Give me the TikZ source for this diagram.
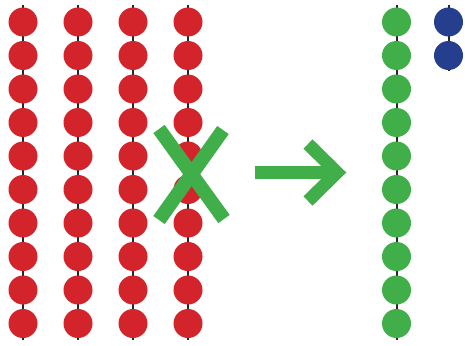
\documentclass[tikz,border=0pt]{standalone}
\usetikzlibrary{positioning}
\definecolor{beadred}{RGB}{211,36,43}
\definecolor{beadgreen}{RGB}{64,174,73}
\definecolor{beadblue}{RGB}{37,63,142}

\begin{document}
\begin{tikzpicture}[ x=1pt, y=-1pt,
    bead/.style= {
        circle,
        fill=#1,
        inner sep=0pt,
        minimum size=29pt },
    wire/.style= {line width=2pt, black!85},
    bar/.style= {line width=#1, draw=beadgreen} ]
    \useasboundingbox (0,0) rectangle (465,345);
    % red strands
    \foreach \c/\x in {1/23,2/78,3/133,4/188} {
        \coordinate (r\c top) at (\x,5);
        \coordinate (r\c bot) at (\x,340);
        \draw [wire] (r\c top) -- (r\c bot);
        \foreach \r in {0,...,9}
            \node [bead=beadred] (r\c-\r) at (\x,22+33.5*\r) {};
    }
    % green strand
    \coordinate (g top) at (396.5,5);
    \coordinate (g bot) at (396.5,340);
    \draw [wire] (g top) -- (g bot);
    \foreach \r in {0,...,9}
        \node [bead=beadgreen] (g-\r) at (396.5,22+33.5*\r) {};
    % blue strand
    \coordinate (b top) at (448.5,5);
    \coordinate (b bot) at (448.5,71);
    \draw [wire] (b top) -- (b bot);
    \foreach \r in {0,1}
        \node [bead=beadblue] (b-\r) at (448.5,22+33.5*\r) {};
    % cross
    \draw [bar=14pt] (159,129) -- (224,219);
    \draw [bar=14pt] (223,130) -- (159,220);
    % arrow
    \draw [bar=13pt] (255,172.5) -- (334,172.5);
    \draw [bar=13pt, miter limit=4] (308,144) -- (337,172.5) -- (308,201);
\end{tikzpicture}
\end{document}
